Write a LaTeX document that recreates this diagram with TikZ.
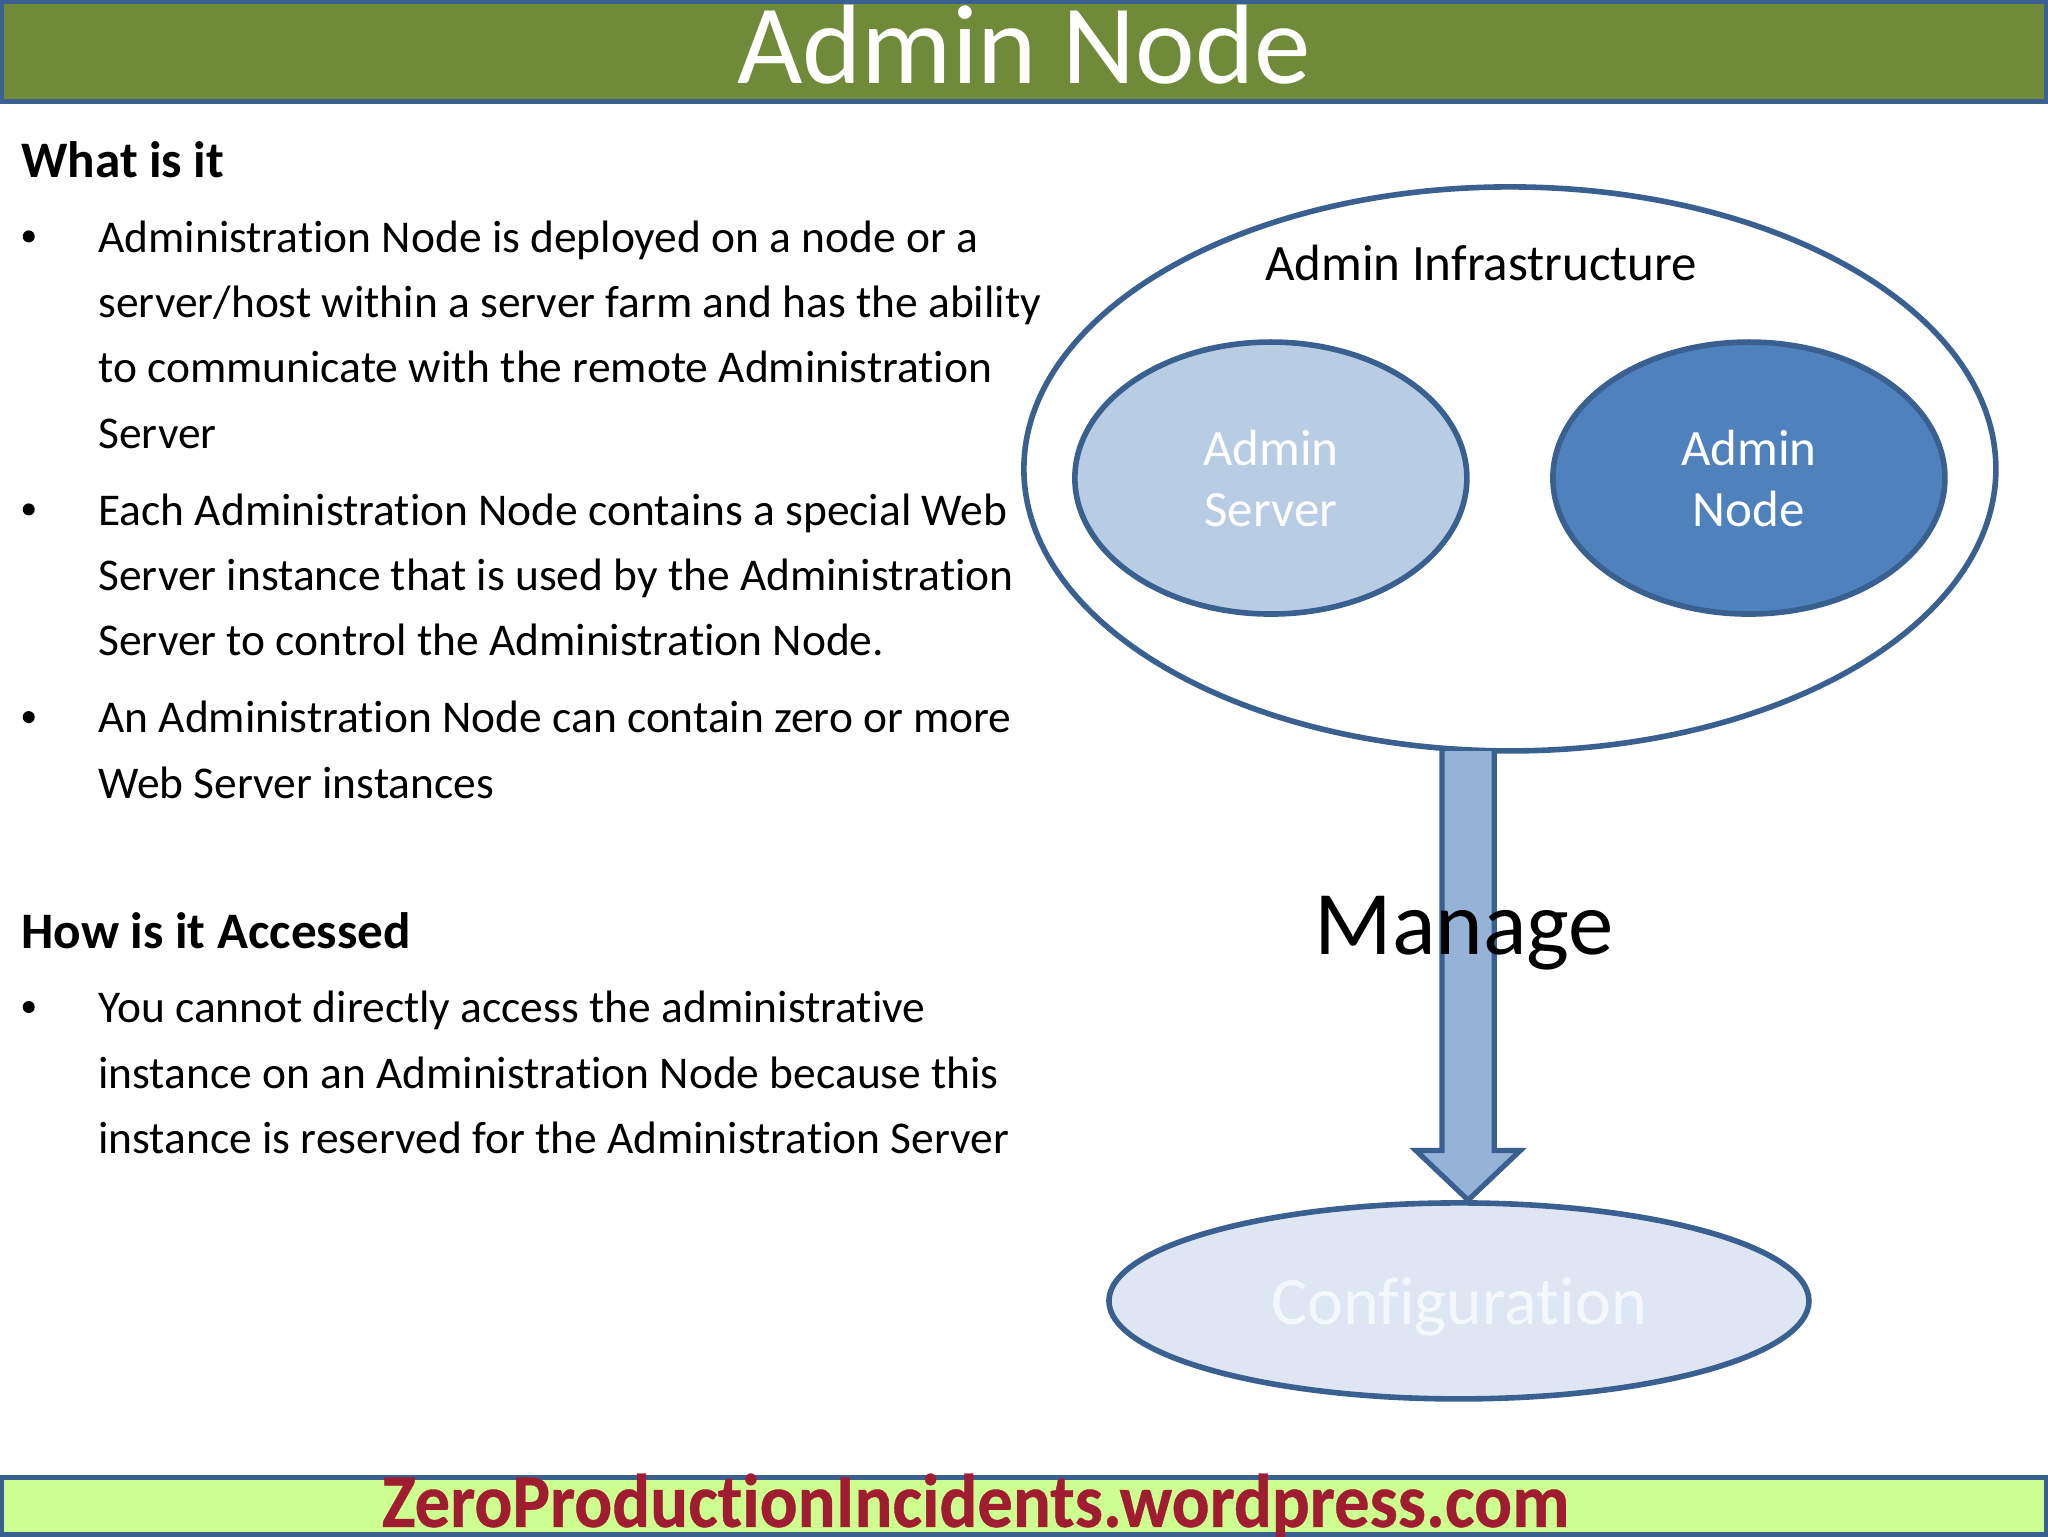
\documentclass[tikz,border=0pt]{standalone}
\usepackage{fontspec}
\setmainfont[RawFeature={-liga}]{Carlito}
\newfontfamily\footfont[RawFeature={-liga},FakeStretch=0.93,FakeBold=0.5,BoldFont=Carlito Bold]{Carlito Bold}
\usetikzlibrary{shapes.geometric,calc}
\definecolor{edgeblue}{HTML}{3A6090}
\definecolor{headgreen}{HTML}{6F8B3A}
\definecolor{footgreen}{HTML}{CCFF8F}
\definecolor{lightell}{HTML}{B8CCE4}
\definecolor{darkell}{HTML}{4F81BD}
\definecolor{paleell}{HTML}{DEE6F3}
\definecolor{arrowfill}{HTML}{95B3D7}
\definecolor{footred}{HTML}{A01C30}
\newcommand{\fs}[1]{\fontsize{#1}{#1}\selectfont}
\tikzset{
  x=0.653061pt,y=-0.653061pt,
  bar/.style={draw=edgeblue,line width=2.5pt},
  oval/.style={ellipse,draw=edgeblue,line width=2.8pt,inner sep=0pt},
  body/.style={anchor=base west,inner sep=0pt,font=\fs{22.72}},
  headg/.style={anchor=base west,inner sep=0pt,font=\fs{25.6}\bfseries},
  bullet/.style={circle,fill=black,inner sep=0pt,minimum size=6pt},
  ovaltext/.style={align=center,text=white,font=\fs{25.5}}
}
\begin{document}
\begin{tikzpicture}
\useasboundingbox (0,0) rectangle (1568,1176);
\fill[white] (0,0) rectangle (1568,1176);
% header and footer
\draw[bar,fill=headgreen] (1,1) rectangle (1567,78);
\node[text=white,inner sep=0pt,anchor=base,font=\fs{56.5}] (title) at (784,64) {Admin Node};
\draw[bar,fill=footgreen] (1,1131) rectangle (1567,1175);
\node[inner sep=0pt,anchor=base,text=footred,font=\footfont\fs{38}] (foot) at (747,1169) {ZeroProductionIncidents.wordpress.com};
% left text
\node[headg] (h1) at (16,136) {What is it};
\node[bullet] (b1) at (22,181) {};
\node[body] (l1) at (75,193) {Administration Node is deployed on a node or a};
\node[body] (l2) at (75,243) {server/host within a server farm and has the ability};
\node[body] (l3) at (75,293) {to communicate with the remote Administration};
\node[body] (l4) at (75,343) {Server};
\node[bullet] (b2) at (22,390) {};
\node[body] (l5) at (75,402) {Each Administration Node contains a special Web};
\node[body] (l6) at (75,452) {Server instance that is used by the Administration};
\node[body] (l7) at (75,502) {Server to control the Administration Node.};
\node[bullet] (b3) at (22,549) {};
\node[body] (l8) at (75,561) {An Administration Node can contain zero or more};
\node[body] (l9) at (75,611) {Web Server instances};
\node[headg] (h2) at (16,726) {How is it Accessed};
\node[bullet] (b4) at (22,771) {};
\node[body] (l10) at (75,783) {You cannot directly access the administrative};
\node[body] (l11) at (75,833) {instance on an Administration Node because this};
\node[body] (l12) at (75,883) {instance is reserved for the Administration Server};
% diagram
\node[oval,fill=white,minimum width=486pt,minimum height=282pt] (infra) at (1156,359) {};
\node[inner sep=0pt,anchor=base,font=\fs{25.5}] (infralabel) at (1134,215) {Admin Infrastructure};
\node[oval,fill=lightell,minimum width=196pt,minimum height=136pt,ovaltext] (server) at (973,366) {Admin\\[5pt]Server};
\node[oval,fill=darkell,minimum width=196pt,minimum height=136pt,ovaltext] (node) at (1339,366) {Admin\\[5pt]Node};
\node[oval,fill=paleell,minimum width=350pt,minimum height=98pt] (config) at (1117,996) {};
\node[inner sep=0pt,anchor=base,font=\fs{34},text=white!70!paleell] (configlabel) at (1117,1014) {Configuration};
\coordinate (atop) at ($(infra.south)+(-32,-2)$);
\coordinate (atip) at ($(config.north)+(7,0)$);
\draw[edgeblue,fill=arrowfill,line width=2.6pt,line join=miter]
  ($(atop)+(-20,0)$) -- ($(atip)+(-20,-38)$) -- ($(atip)+(-40,-38)$) -- (atip)
  -- ($(atip)+(40,-38)$) -- ($(atip)+(20,-38)$) -- ($(atop)+(20,0)$);
\node[inner sep=0pt,anchor=base,font=\fs{45.4}] (manage) at (1121,731) {Manage};
\end{tikzpicture}
\end{document}
